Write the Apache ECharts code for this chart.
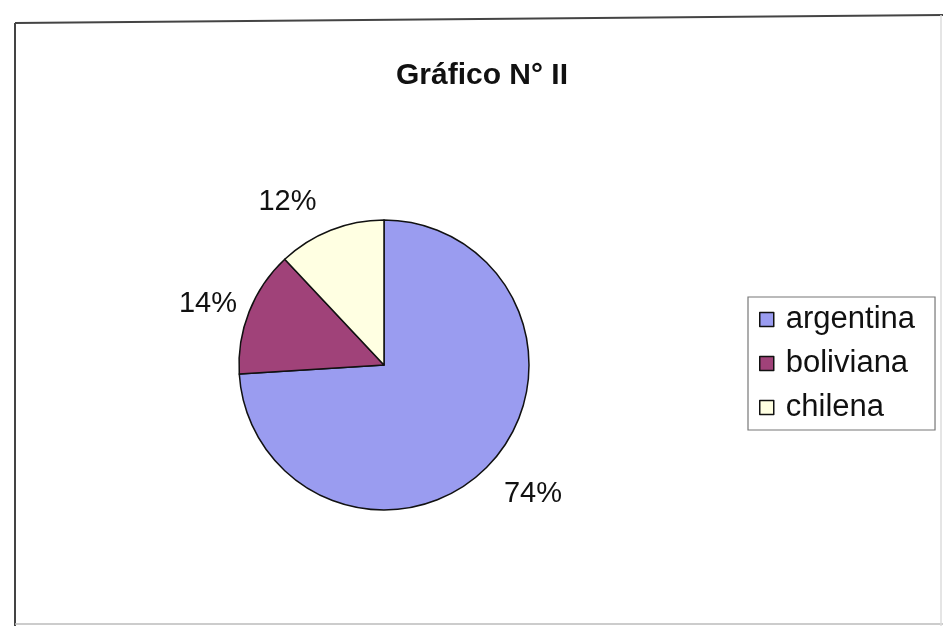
<!DOCTYPE html>
<html>
<head>
<meta charset="utf-8">
<script src="https://cdn.jsdelivr.net/npm/echarts@6/dist/echarts.min.js"></script>
<style>
html,body{margin:0;padding:0;background:#fff;}
#chart{width:943px;height:626px;}
</style>
</head>
<body>
<div id="chart"></div>
<script>
const categories = ['argentina', 'boliviana', 'chilena'];
const values = [74, 14, 12];
const colors = ['#9A9CF0', '#A04279', '#FFFFE2'];
const titleText = 'Gráfico N° II';

// fine label nudges (layout only)
const labelNudge = [[-9, 13], [16, 2], [0, -5]];

const chart = echarts.init(document.getElementById('chart'));
const font = '"Liberation Sans", Arial, sans-serif';

chart.setOption({
  backgroundColor: '#ffffff',
  animation: false,
  title: {
    text: titleText,
    left: 477,
    top: 56,
    textAlign: 'center',
    textStyle: { fontFamily: font, fontSize: 30, fontWeight: 'bold', color: '#111' }
  },
  legend: {
    orient: 'vertical',
    left: 748,
    top: 297,
    itemWidth: 14,
    itemHeight: 14,
    itemGap: 13,
    icon: 'rect',
    padding: [7, 20, 7, 11],
    borderColor: '#777',
    borderWidth: 1.2,
    data: categories,
    itemStyle: { borderColor: '#111', borderWidth: 1.5 },
    textStyle: { fontFamily: font, fontSize: 31, color: '#111', padding: [0, 0, 0, 7] }
  },
  graphic: [
    { type: 'line', shape: { x1: 15, y1: 23, x2: 943, y2: 15 }, style: { stroke: '#444', lineWidth: 2 } },
    { type: 'line', shape: { x1: 15, y1: 23, x2: 15, y2: 626 }, style: { stroke: '#444', lineWidth: 2 } },
    { type: 'line', shape: { x1: 15, y1: 624, x2: 943, y2: 624 }, style: { stroke: '#bbb', lineWidth: 1.5 } },
    { type: 'line', shape: { x1: 941, y1: 15, x2: 941, y2: 626 }, style: { stroke: '#ddd', lineWidth: 1.5 } }
  ],
  series: [{
    type: 'pie',
    center: [384, 365],
    radius: 145,
    startAngle: 90,
    clockwise: true,
    avoidLabelOverlap: false,
    data: categories.map((c, i) => ({ name: c, value: values[i], itemStyle: { color: colors[i] } })),
    itemStyle: { borderColor: '#111', borderWidth: 1.5 },
    label: {
      show: true,
      position: 'outside',
      formatter: p => Math.round(p.percent) + '%',
      fontFamily: font,
      fontSize: 29,
      color: '#111'
    },
    labelLine: { show: false, length: 25, length2: 0 },
    labelLayout: p => ({ dx: labelNudge[p.dataIndex][0], dy: labelNudge[p.dataIndex][1] }),
    emphasis: { disabled: true }
  }]
});
</script>
</body>
</html>
